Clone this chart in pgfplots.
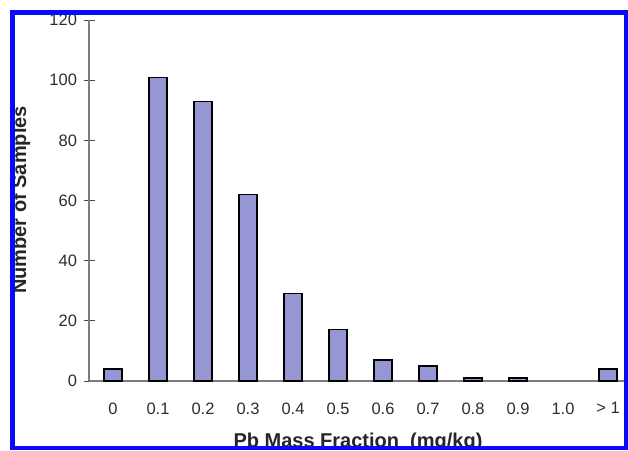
\documentclass[border=0pt]{standalone}
\usepackage{fontspec}
\setmainfont{Liberation Sans}
\usepackage{pgfplots}
\pgfplotsset{compat=1.18}
\definecolor{barfill}{RGB}{150,150,212}
\definecolor{frameblue}{RGB}{10,10,250}
\definecolor{axisgray}{RGB}{125,125,125}
\definecolor{ticktext}{RGB}{45,45,45}

% the 1.0 class holds no sample, so it has no bar
\pgfplotstableread{
cat count
0   4
1   101
2   93
3   62
4   29
5   17
6   7
7   5
8   1
9   1
11  4
}\pbdata

\begin{document}
\begin{tikzpicture}[x=1pt,y=1pt]
\path[use as bounding box] (0,0) rectangle (628,450);
\begin{scope}
\clip (12.5,2) rectangle (626,437.5);
\begin{axis}[
  at={(89pt,69pt)}, anchor=south west,
  scale only axis, width=536pt, height=361pt,
  xmin=-0.533, xmax=11.378,
  ymin=0, ymax=120,
  axis lines*=left,
  axis line style={axisgray, line width=1.3pt},
  ytick={0,20,...,120},
  xtick={0,...,11},
  xticklabels={0,0.1,0.2,0.3,0.4,0.5,0.6,0.7,0.8,0.9,1.0,> 1},
  x tick style={draw=none},
  y tick style={axisgray!60!black, line width=0.9pt},
  tick align=center, major tick length=11pt,
  tick label style={font=\fontsize{16.5}{19}\selectfont, text=ticktext},
  /pgf/number format/assume math mode=true,
  xticklabel style={yshift=-7pt},
  yticklabel style={xshift=-3pt},
  ybar, bar width=18pt,
]
  \addplot[draw=black, line width=1.2pt, fill=barfill] table[x=cat, y=count] {\pbdata};
\end{axis}
\node[font=\bfseries\fontsize{20}{24}\selectfont, anchor=base, text=black!85] at (358,3) {Pb Mass Fraction\ \ (mg/kg)};
\node[font=\bfseries\fontsize{20}{24}\selectfont, rotate=90, text=black!85] at (21,250) {Number of Samples};
\end{scope}
\draw[frameblue, line width=4.5pt] (12.5,2) rectangle (626,437.5);
\end{tikzpicture}
\end{document}
